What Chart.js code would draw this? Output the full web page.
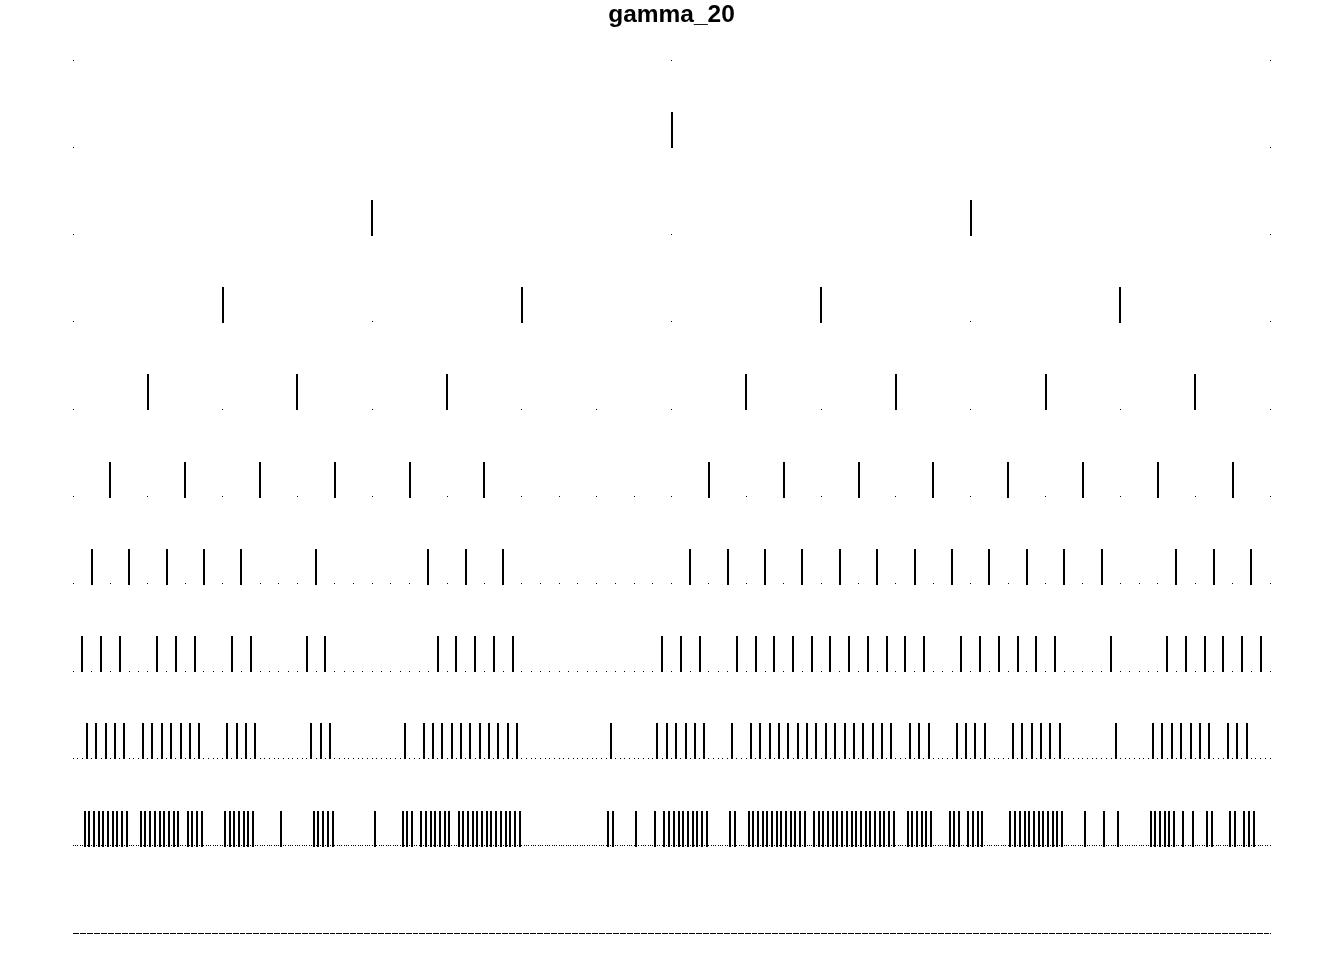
<!DOCTYPE html>
<html>
<head>
<meta charset="utf-8">
<script src="https://cdn.jsdelivr.net/npm/chart.js@4.4.1/dist/chart.umd.min.js"></script>
<style>
  html, body { margin: 0; padding: 0; background: #ffffff; }
  #wrap { width: 1344px; height: 960px; }
</style>
</head>
<body>
<div id="wrap"><canvas id="c" width="1344" height="960"></canvas></div>
<script>
// ---- data ----
const titleText = 'gamma_20';
const levels = [0, 1, 2, 3, 4, 5, 6, 7, 8, 9, 10];
// number of grid intervals on each level (dots are drawn at every grid point)
const gridDivisions = [2, 2, 4, 8, 16, 32, 64, 128, 256, 512, 1024];
// runs [first, last] of odd grid positions (index k -> (2k+1)/2^level) that carry a bar
const barsLevel0 = [];
const barsLevel1 = [[0, 0]];
const barsLevel2 = [[0, 1]];
const barsLevel3 = [[0, 3]];
const barsLevel4 = [[0, 2], [4, 7]];
const barsLevel5 = [[0, 5], [8, 15]];
const barsLevel6 = [[0, 4], [6, 6], [9, 11], [16, 27], [29, 31]];
const barsLevel7 = [[0, 2], [4, 6], [8, 9], [12, 13], [19, 23], [31, 33], [35, 45], [47, 52], [55, 55], [58, 63]];
const barsLevel8 = [[1, 5], [7, 13], [16, 19], [25, 27], [35, 35], [37, 47], [57, 57], [62, 67], [70, 70], [72, 87],
                    [89, 91], [94, 97], [100, 105], [111, 111], [115, 121], [123, 125]];
const barsLevel9 = [[2, 11], [14, 22], [24, 27], [32, 38], [44, 44], [51, 55], [64, 64], [70, 72], [74, 80], [82, 95],
                    [114, 115], [120, 120], [124, 124], [126, 135], [140, 141], [144, 156], [158, 175], [178, 183],
                    [187, 189], [191, 194], [200, 211], [216, 216], [220, 220], [223, 223], [230, 235], [237, 237],
                    [239, 239], [242, 243], [247, 248], [250, 252]];
const barsLevel10 = [];
const barRunsByLevel = [barsLevel0, barsLevel1, barsLevel2, barsLevel3, barsLevel4, barsLevel5,
                        barsLevel6, barsLevel7, barsLevel8, barsLevel9, barsLevel10];

// ---- build point lists ----
const dotPoints = [];
levels.forEach(function (lv) {
  const n = gridDivisions[lv];
  for (let i = 0; i <= n; i++) dotPoints.push({ x: i / n, y: lv });
});
const barPoints = [];
levels.forEach(function (lv) {
  const denom = Math.pow(2, lv);
  barRunsByLevel[lv].forEach(function (run) {
    for (let k = run[0]; k <= run[1]; k++) barPoints.push({ x: (2 * k + 1) / denom, y: lv });
  });
});

// bar glyph: a vertical tick standing on the point (like pch "|")
const barImg = document.createElement('canvas');
barImg.width = 2; barImg.height = 70;
const bctx = barImg.getContext('2d');
bctx.fillStyle = '#000000';
bctx.fillRect(0, 0, 2, 36);

// dot glyph (like pch ".")
const dotImg = document.createElement('canvas');
dotImg.width = 1; dotImg.height = 1;
const dctx = dotImg.getContext('2d');
dctx.fillStyle = '#000000';
dctx.fillRect(0, 0, 1, 1);

const crispPlugin = {
  id: 'crisp',
  beforeDatasetsDraw: function (chart) { chart.ctx.imageSmoothingEnabled = false; },
  afterDatasetsDraw: function (chart) { chart.ctx.imageSmoothingEnabled = true; }
};

new Chart(document.getElementById('c'), {
  type: 'scatter',
  data: {
    datasets: [
      {
        label: 'grid',
        data: dotPoints,
        pointStyle: dotImg,
        radius: 0.71,
        hoverRadius: 0.71,
        borderWidth: 0,
        showLine: false,
        clip: false
      },
      {
        label: 'coefficients',
        data: barPoints,
        pointStyle: barImg,
        radius: 17,
        hoverRadius: 17,
        borderWidth: 0,
        showLine: false,
        clip: false
      }
    ]
  },
  options: {
    responsive: false,
    animation: false,
    events: [],
    layout: { padding: { left: 73, right: 74, top: 0, bottom: 27 } },
    scales: {
      x: { type: 'linear', min: 0, max: 1, display: false },
      y: { type: 'linear', min: 0, max: 10, reverse: true, display: false }
    },
    plugins: {
      legend: { display: false },
      tooltip: { enabled: false },
      title: {
        display: true,
        text: titleText,
        color: '#000000',
        font: { family: '"Liberation Sans", Arial, sans-serif', size: 24.5, weight: 'bold', lineHeight: 1.2 },
        padding: { top: 0.6, bottom: 30 }
      }
    }
  },
  plugins: [crispPlugin]
});
</script>
</body>
</html>
